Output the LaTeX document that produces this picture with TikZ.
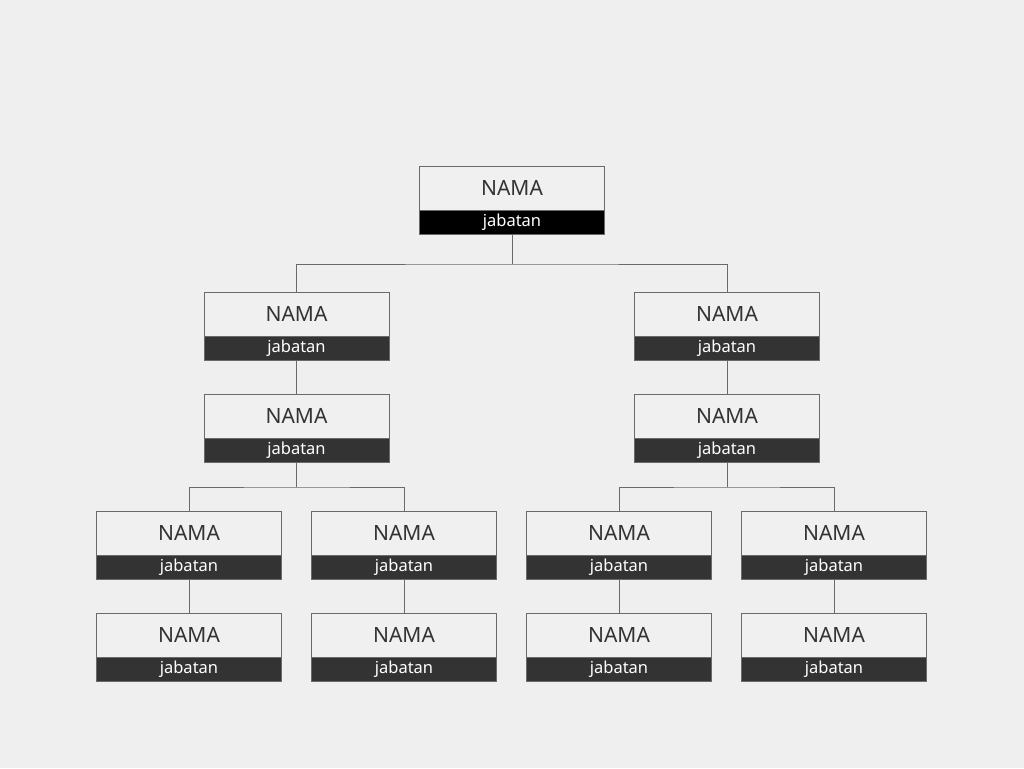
\documentclass[tikz,border=0pt]{standalone}
\usepackage{fontspec}
\setmainfont{Noto Sans}
\definecolor{bg}{HTML}{EFEFEF}
\definecolor{boxfill}{HTML}{F0F0F0}
\definecolor{edge}{HTML}{6A6A6A}
\definecolor{bar}{HTML}{333333}
\definecolor{txt}{HTML}{333333}
\begin{document}
\begin{tikzpicture}[x=1pt,y=-1pt,
  namebox/.style={draw=edge,line width=0.8pt,fill=boxfill,minimum width=185pt,minimum height=43.5pt,
    inner sep=0pt,outer sep=0pt,anchor=north,text=txt,font=\fontsize{21}{24}\selectfont},
  jobbar/.style={fill=bar,draw=edge,line width=0.8pt,minimum width=185pt,minimum height=24.5pt,
    inner sep=0pt,outer sep=0pt,anchor=north,text=white,font=\fontsize{16.5}{19}\selectfont},
  link/.style={draw=edge,line width=0.9pt}]
\fill[bg] (0,0) rectangle (1024,768);
\useasboundingbox (0,0) rectangle (1024,768);
\newcommand\orgbox[4]{%
  \node[namebox] (#1) at (#2,#3) {NAMA};
  \node[jobbar,fill=#4] (#1-j) at (#1.south) {jabatan};
}
\orgbox{top}{512}{166.5}{black}
\orgbox{l1}{296.5}{292.5}{bar}
\orgbox{r1}{727}{292.5}{bar}
\orgbox{l2}{296.5}{394.5}{bar}
\orgbox{r2}{727}{394.5}{bar}
\orgbox{a3}{189}{511.5}{bar}
\orgbox{b3}{404}{511.5}{bar}
\orgbox{c3}{619}{511.5}{bar}
\orgbox{d3}{834}{511.5}{bar}
\orgbox{a4}{189}{613.5}{bar}
\orgbox{b4}{404}{613.5}{bar}
\orgbox{c4}{619}{613.5}{bar}
\orgbox{d4}{834}{613.5}{bar}
\coordinate (t0) at (512,264);
\draw[link] (top-j.south) -- (t0);
\draw[link] (l1.north) |- (t0) -| (r1.north);
\draw[link] (l1-j.south) -- (l2.north);
\draw[link] (r1-j.south) -- (r2.north);
\coordinate (lj) at (296.5,487);
\coordinate (rj) at (727,487);
\draw[link] (l2-j.south) -- (lj);
\draw[link] (a3.north) |- (lj) -| (b3.north);
\draw[link] (r2-j.south) -- (rj);
\draw[link] (c3.north) |- (rj) -| (d3.north);
\draw[link] (a3-j.south) -- (a4.north);
\draw[link] (b3-j.south) -- (b4.north);
\draw[link] (c3-j.south) -- (c4.north);
\draw[link] (d3-j.south) -- (d4.north);
\end{tikzpicture}
\end{document}
